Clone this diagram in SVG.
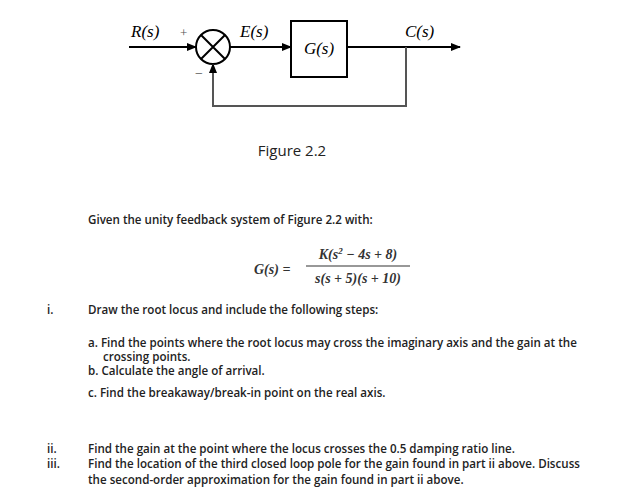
<svg xmlns="http://www.w3.org/2000/svg" width="627" height="499" viewBox="0 0 627 499">
<style>
.w{stroke:#000;stroke-width:2;fill:none}
.g{stroke:#555;stroke-width:2;fill:none}
.m{font-family:"Liberation Serif",serif;font-size:17px;font-style:italic}
.t{font-family:"Open Sans","Liberation Sans",sans-serif;font-size:11.6px;font-weight:600;fill:#222}
.f{font-family:"Liberation Serif",serif;font-size:14px;font-weight:bold;font-style:italic;fill:#333}
</style>
<defs><marker id="a" markerWidth="10" markerHeight="8" refX="9" refY="4" orient="auto" markerUnits="userSpaceOnUse"><path d="M0,0L10,4L0,8z" fill="#000"/></marker></defs>
<rect width="627" height="499" fill="#fff"/>
<g id="sum"><circle cx="213" cy="47" r="17" class="w"/><path d="M201,35L225,59M225,35L201,59" class="w"/></g>
<g id="G"><rect x="291" y="21" width="56" height="56" class="w"/><text x="319" y="54" text-anchor="middle" class="m" font-style="normal">G(<tspan font-style="italic">s</tspan>)</text></g>
<g id="connectors">
<path d="M129,47H196" class="w" marker-end="url(#a)"/>
<path d="M230,47H291" class="w" marker-end="url(#a)"/>
<path d="M347,47H460" class="w" marker-end="url(#a)"/>
<path d="M406,47V106H213V64" class="g" marker-end="url(#a)"/>
</g>
<g id="labels" class="m">
<text x="131" y="37">R(s)</text><text x="180" y="37" font-size="13" font-style="normal" fill="#555">+</text>
<text x="240" y="37">E(s)</text><text x="405" y="37">C(s)</text>
<text x="195" y="78" font-size="14" font-style="normal" fill="#555">−</text>
</g>
<text x="292" y="156" text-anchor="middle" font-family="Open Sans,Liberation Sans,sans-serif" font-size="15" fill="#222">Figure 2.2</text>
<text x="88" y="224" class="t">Given the unity feedback system of Figure 2.2 with:</text>
<text x="254" y="274" class="f">G(s) =</text>
<text x="358" y="259" class="f" text-anchor="middle">K(s<tspan font-size="9" dy="-5">2</tspan><tspan dy="5"> − 4s + 8)</tspan></text>
<path d="M306,266H410" stroke="#333" stroke-width="1.2"/>
<text x="358" y="283" class="f" text-anchor="middle">s(s + 5)(s + 10)</text>
<g class="t">
<text x="47" y="314">i.</text><text x="88" y="314">Draw the root locus and include the following steps:</text>
<text x="88" y="347">a.  Find the points where the root locus may cross the imaginary axis and the gain at the</text>
<text x="103" y="361">crossing points.</text>
<text x="88" y="375">b.  Calculate the angle of arrival.</text>
<text x="88" y="397">c.  Find the breakaway/break-in point on the real axis.</text>
<text x="47" y="453">ii.</text><text x="88" y="453">Find the gain at the point where the locus crosses the 0.5 damping ratio line.</text>
<text x="47" y="468">iii.</text><text x="88" y="468">Find the location of the third closed loop pole for the gain found in part ii above. Discuss</text>
<text x="88" y="484">the second-order approximation for the gain found in part ii above.</text>
</g>
</svg>
